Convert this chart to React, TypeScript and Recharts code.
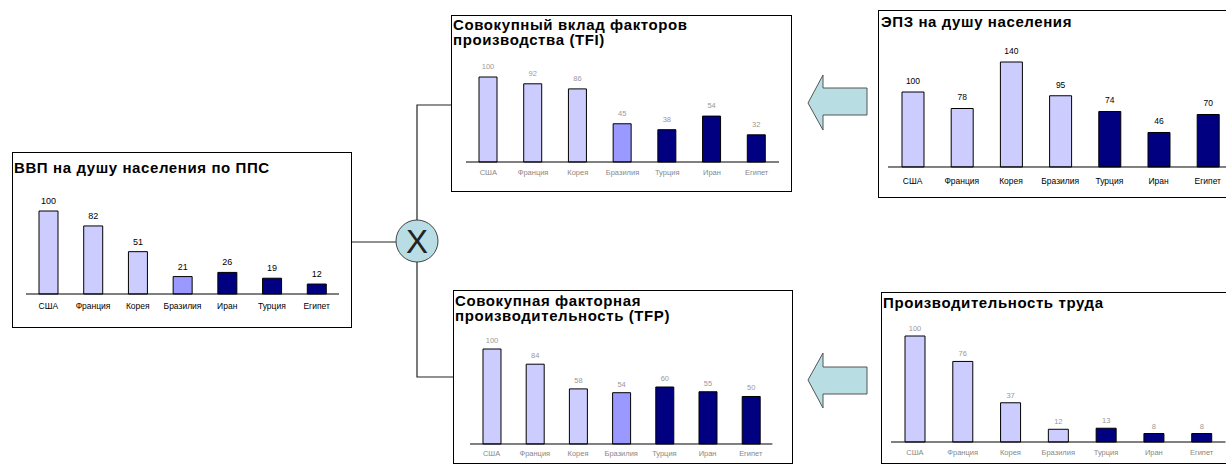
import { BarChart, Bar, XAxis, YAxis, Cell, LabelList } from 'recharts'

// data
const gdpCountries = ['США', 'Франция', 'Корея', 'Бразилия', 'Иран', 'Турция', 'Египет']
const gdpValues = [100, 82, 51, 21, 26, 19, 12]

const tfiCountries = ['США', 'Франция', 'Корея', 'Бразилия', 'Турция', 'Иран', 'Египет']
const tfiValues = [100, 92, 86, 45, 38, 54, 32]

const epzCountries = ['США', 'Франция', 'Корея', 'Бразилия', 'Турция', 'Иран', 'Египет']
const epzValues = [100, 78, 140, 95, 74, 46, 70]

const tfpCountries = ['США', 'Франция', 'Корея', 'Бразилия', 'Турция', 'Иран', 'Египет']
const tfpValues = [100, 84, 58, 54, 60, 55, 50]

const laborCountries = ['США', 'Франция', 'Корея', 'Бразилия', 'Турция', 'Иран', 'Египет']
const laborValues = [100, 76, 37, 12, 13, 8, 8]

// styles
const LIGHT = '#ccccff'
const MID = '#9999ff'
const DARK = '#000080'
const gdpFills = [LIGHT, LIGHT, LIGHT, MID, DARK, DARK, DARK]
const tfiFills = [LIGHT, LIGHT, LIGHT, MID, DARK, DARK, DARK]
const epzFills = [LIGHT, LIGHT, LIGHT, LIGHT, DARK, DARK, DARK]
const tfpFills = [LIGHT, LIGHT, LIGHT, MID, DARK, DARK, DARK]
const laborFills = [LIGHT, LIGHT, LIGHT, LIGHT, DARK, DARK, DARK]

const FONT = '"Liberation Sans", Arial, sans-serif'

const rows = (names: string[], vals: number[]) => names.map((name, i) => ({ name, value: vals[i] }))

function MiniChart(p: any) {
  // p.x0/x1: plot left/right, p.top/base: y of max value and of zero
  const mT = 30, mS = 10, axisH = 26
  const w = p.x1 - p.x0 + mS * 2
  const h = mT + (p.base - p.top) + axisH
  return (
    <div style={{ position: 'absolute', left: p.x0 - mS, top: p.top - mT }}>
      <BarChart width={w} height={h} data={p.data} margin={{ top: mT, left: mS, right: mS, bottom: 0 }}>
        <XAxis dataKey="name" height={axisH} interval={0} tickLine={false} tickSize={0} tickMargin={p.tickMargin}
          axisLine={{ stroke: '#000', strokeWidth: 1 }}
          tick={{ fontSize: p.tickSize, fill: p.tickColor, fontFamily: FONT }} />
        <YAxis hide domain={[0, p.max]} />
        <Bar dataKey="value" barSize={p.barSize} stroke="#000" strokeWidth={1} isAnimationActive={false}>
          {p.data.map((_: any, i: number) => <Cell key={i} fill={p.fills[i]} />)}
          <LabelList dataKey="value" position="top" offset={p.labelOffset} fill={p.valueColor} fontSize={p.valueSize} fontFamily={FONT} />
        </Bar>
      </BarChart>
    </div>
  )
}

const boxStyle = (left: number, top: number, width: number, height: number): any => ({
  position: 'absolute', left, top, width, height, border: '1.5px solid #000', boxSizing: 'border-box', background: '#fff'
})
const titleStyle = (left: number, top: number): any => ({
  position: 'absolute', left, top, fontSize: 15, fontWeight: 'bold', lineHeight: '15px', letterSpacing: 0.6, color: '#000', whiteSpace: 'nowrap'
})

export default function App() {
  return (
    <div style={{ position: 'fixed', left: 0, top: 0, width: 1226, height: 465, overflow: 'hidden', background: '#fff', fontFamily: FONT }}>
      <svg width={1226} height={465} style={{ position: 'absolute', left: 0, top: 0 }}>
        <line x1={352} y1={242} x2={396} y2={242} stroke="#222" strokeWidth={1.2} />
        <polyline points="417,221 417,105 452,105" fill="none" stroke="#222" strokeWidth={1.2} />
        <polyline points="417,262 417,377 454,377" fill="none" stroke="#222" strokeWidth={1.2} />
        <circle cx={417} cy={241} r={21} fill="#b8dde4" stroke="#444" strokeWidth={1} />
        <text x={417} y={253} textAnchor="middle" fontSize={33} fontFamily={FONT} fill="#222">X</text>
        <polygon points="808,103 823,75 823,88 867,88 867,115 823,115 823,130" fill="#b8dde2" stroke="#555" strokeWidth={1} />
        <polygon points="808,380 823,353 823,367 867,367 867,394 823,394 823,408" fill="#b8dde2" stroke="#555" strokeWidth={1} />
      </svg>

      {/* ВВП */}
      <div style={boxStyle(12, 152, 340, 176)} />
      <div style={titleStyle(14, 160)}>ВВП на душу населения по ППС</div>
      <MiniChart data={rows(gdpCountries, gdpValues)} fills={gdpFills} x0={25.6} x1={338.6} top={211} base={294} max={100}
        barSize={19} tickMargin={9} tickSize={8.5} tickColor="#000" valueColor="#000" valueSize={9} labelOffset={7} />

      {/* TFI */}
      <div style={boxStyle(451, 15, 341, 177)} />
      <div style={titleStyle(453, 17)}>Совокупный вклад факторов<br />производства (TFI)</div>
      <MiniChart data={rows(tfiCountries, tfiValues)} fills={tfiFills} x0={465.6} x1={778.6} top={77} base={162} max={100}
        barSize={18} tickMargin={8} tickSize={7.5} tickColor="#888" valueColor="#999" valueSize={7.5} labelOffset={8} />

      {/* ЭПЗ */}
      <div style={boxStyle(878, 10, 360, 188)} />
      <div style={titleStyle(881, 14)}>ЭПЗ на душу населения</div>
      <MiniChart data={rows(epzCountries, epzValues)} fills={epzFills} x0={888.4} x1={1232.8} top={62} base={167} max={140}
        barSize={22} tickMargin={11} tickSize={8.5} tickColor="#000" valueColor="#000" valueSize={8.5} labelOffset={8} />

      {/* TFP */}
      <div style={boxStyle(453, 290, 340, 174)} />
      <div style={titleStyle(455, 293)}>Совокупная факторная<br />производительность (TFP)</div>
      <MiniChart data={rows(tfpCountries, tfpValues)} fills={tfpFills} x0={470.4} x1={772.8} top={349} base={444} max={100}
        barSize={18} tickMargin={7} tickSize={7.5} tickColor="#888" valueColor="#999" valueSize={7.5} labelOffset={6} />

      {/* Производительность труда */}
      <div style={boxStyle(881, 292, 360, 172)} />
      <div style={titleStyle(883, 295)}>Производительность труда</div>
      <MiniChart data={rows(laborCountries, laborValues)} fills={laborFills} x0={891} x1={1225.5} top={336} base={442} max={100}
        barSize={20} tickMargin={8} tickSize={7.5} tickColor="#888" valueColor="#999" valueSize={7.5} labelOffset={5} />
    </div>
  )
}
